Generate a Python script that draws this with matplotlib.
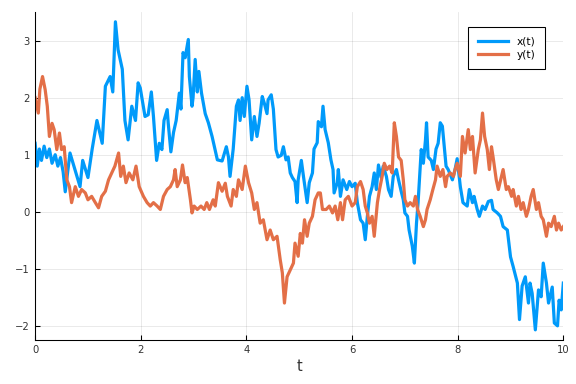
import numpy as np
import matplotlib
matplotlib.use("Agg")
import matplotlib.pyplot as plt

# x(t)
t_x = [0.00, 0.04, 0.08, 0.12, 0.17, 0.22, 0.27, 0.32, 0.38, 0.43, 0.48, 0.53, 0.57,
       0.66, 0.85, 0.90, 1.00, 1.08, 1.17, 1.27, 1.33, 1.42, 1.47, 1.52, 1.57, 1.65,
       1.70, 1.76, 1.83, 1.90, 1.95, 1.99, 2.08, 2.14, 2.20, 2.24, 2.30, 2.35, 2.40,
       2.44, 2.50, 2.52, 2.57, 2.62, 2.67, 2.73, 2.76, 2.80, 2.84, 2.90, 2.92, 2.97,
       2.99, 3.03, 3.07, 3.10, 3.15, 3.22, 3.28, 3.35, 3.45, 3.54, 3.62, 3.66, 3.69,
       3.75, 3.81, 3.85, 3.88, 3.92, 3.96, 4.01, 4.05, 4.10, 4.15, 4.20, 4.24, 4.30,
       4.34, 4.39, 4.41, 4.47, 4.51, 4.56, 4.60, 4.66, 4.70, 4.75, 4.79, 4.83, 4.87,
       4.92, 4.96, 4.98, 5.04, 5.08, 5.15, 5.19, 5.25, 5.28, 5.34, 5.36, 5.42, 5.45,
       5.49, 5.55, 5.60, 5.64, 5.66, 5.72, 5.74, 5.78, 5.83, 5.90, 5.95, 6.00, 6.06,
       6.10, 6.16, 6.21, 6.25, 6.29, 6.33, 6.38, 6.42, 6.46, 6.50, 6.55, 6.59, 6.65,
       6.69, 6.74, 6.78, 6.84, 6.88, 6.93, 6.97, 7.00, 7.05, 7.08, 7.14, 7.18, 7.22,
       7.25, 7.31, 7.35, 7.39, 7.41, 7.44, 7.50, 7.54, 7.59, 7.63, 7.67, 7.71, 7.75,
       7.78, 7.82, 7.90, 7.95, 7.99, 8.05, 8.10, 8.18, 8.22, 8.28, 8.31, 8.37, 8.41,
       8.47, 8.52, 8.58, 8.64, 8.67, 8.75, 8.81, 8.86, 8.94, 9.00, 9.05, 9.13, 9.17,
       9.22, 9.28, 9.34, 9.37, 9.41, 9.47, 9.53, 9.58, 9.62, 9.68, 9.72, 9.79, 9.83,
       9.89, 9.92, 9.96, 10.00]
x_vals = [1.20, 0.80, 1.10, 0.90, 1.15, 0.95, 1.10, 0.85, 1.00, 0.80, 0.95, 0.70, 0.35,
          1.03, 0.44, 0.90, 0.60, 1.10, 1.60, 1.20, 2.20, 2.37, 2.10, 3.33, 2.84, 2.50,
          1.60, 1.26, 1.85, 1.60, 2.26, 2.17, 1.67, 1.70, 2.10, 1.67, 0.90, 1.20, 1.09,
          1.60, 1.79, 1.55, 1.05, 1.39, 1.60, 2.08, 1.80, 2.79, 2.70, 3.02, 2.37, 1.85,
          2.00, 2.67, 2.10, 2.46, 2.08, 1.72, 1.56, 1.32, 0.91, 0.89, 1.14, 0.96, 0.62,
          1.10, 1.85, 1.96, 1.60, 2.00, 1.67, 2.20, 1.96, 1.26, 1.67, 1.32, 1.55, 2.02,
          1.90, 1.72, 1.96, 2.05, 1.80, 1.09, 0.96, 0.99, 1.14, 0.91, 0.96, 0.68, 0.60,
          0.53, 0.16, 0.56, 0.90, 0.62, 0.16, 0.51, 0.68, 1.10, 1.21, 1.58, 1.49, 1.85,
          1.44, 1.21, 0.91, 0.74, 0.33, 0.51, 0.74, 0.27, 0.56, 0.39, 0.53, 0.44, 0.50,
          0.16, -0.14, -0.20, -0.49, -0.08, 0.27, 0.44, 0.68, 0.39, 0.82, 0.60, 0.80, 0.62,
          0.39, 0.27, 0.62, 0.74, 0.56, 0.36, 0.21, -0.02, -0.08, -0.32, -0.60, -0.90, -0.20,
          0.16, 1.09, 0.85, 1.26, 1.56, 0.96, 0.90, 0.74, 1.10, 1.20, 1.56, 1.50, 1.09,
          0.80, 0.74, 0.56, 0.74, 0.93, 0.44, 0.16, 0.10, 0.39, 0.16, 0.27, 0.04, -0.08,
          0.10, 0.04, 0.18, 0.20, 0.04, -0.02, -0.08, -0.26, -0.32, -0.79, -0.96, -1.25, -1.89,
          -1.30, -1.14, -1.60, -1.25, -1.43, -2.07, -1.37, -1.49, -0.90, -1.25, -1.60, -1.32, -1.95,
          -2.00, -1.55, -1.72, -1.25]

# y(t)
t_y = [0.00, 0.06, 0.09, 0.14, 0.19, 0.23, 0.27, 0.32, 0.36, 0.41, 0.46, 0.50, 0.55,
       0.60, 0.65, 0.69, 0.76, 0.82, 0.88, 0.95, 1.00, 1.07, 1.14, 1.20, 1.26, 1.33,
       1.39, 1.45, 1.51, 1.58, 1.62, 1.67, 1.72, 1.78, 1.85, 1.91, 1.97, 2.05, 2.12,
       2.18, 2.24, 2.31, 2.37, 2.43, 2.50, 2.56, 2.62, 2.65, 2.69, 2.75, 2.79, 2.84,
       2.88, 2.94, 2.97, 3.01, 3.07, 3.14, 3.20, 3.25, 3.30, 3.37, 3.41, 3.47, 3.54,
       3.60, 3.64, 3.71, 3.75, 3.81, 3.85, 3.92, 3.98, 4.04, 4.10, 4.15, 4.20, 4.26,
       4.32, 4.39, 4.45, 4.51, 4.58, 4.64, 4.68, 4.72, 4.77, 4.83, 4.89, 4.92, 4.98,
       5.02, 5.06, 5.10, 5.15, 5.19, 5.25, 5.30, 5.36, 5.40, 5.44, 5.51, 5.57, 5.63,
       5.68, 5.73, 5.78, 5.82, 5.87, 5.93, 6.00, 6.06, 6.10, 6.16, 6.21, 6.25, 6.29,
       6.33, 6.38, 6.42, 6.48, 6.52, 6.57, 6.61, 6.66, 6.71, 6.76, 6.80, 6.84, 6.88,
       6.93, 6.97, 7.00, 7.05, 7.10, 7.16, 7.20, 7.24, 7.29, 7.35, 7.39, 7.42, 7.48,
       7.53, 7.58, 7.61, 7.67, 7.72, 7.77, 7.80, 7.86, 7.92, 7.95, 7.99, 8.05, 8.09,
       8.14, 8.20, 8.24, 8.28, 8.33, 8.39, 8.43, 8.47, 8.51, 8.56, 8.60, 8.64, 8.67,
       8.73, 8.77, 8.83, 8.86, 8.92, 8.96, 9.02, 9.05, 9.11, 9.15, 9.20, 9.24, 9.30,
       9.34, 9.39, 9.43, 9.49, 9.53, 9.58, 9.62, 9.68, 9.72, 9.77, 9.83, 9.87, 9.91,
       9.96, 10.00]
y_vals = [2.00, 1.73, 2.15, 2.37, 2.14, 1.85, 1.32, 1.55, 1.44, 1.09, 1.38, 1.09, 1.14,
          0.56, 0.44, 0.16, 0.44, 0.27, 0.39, 0.33, 0.21, 0.27, 0.16, 0.07, 0.27, 0.36,
          0.56, 0.68, 0.80, 1.03, 0.62, 0.80, 0.51, 0.68, 0.56, 0.80, 0.44, 0.27, 0.16,
          0.10, 0.16, 0.10, 0.04, 0.27, 0.39, 0.44, 0.56, 0.74, 0.44, 0.56, 0.82, 0.51,
          0.60, 0.21, -0.02, 0.10, 0.04, 0.10, 0.04, 0.16, 0.04, 0.21, 0.10, 0.51, 0.36,
          0.50, 0.27, 0.10, 0.39, 0.27, 0.56, 0.39, 0.80, 0.51, 0.33, 0.04, 0.16, -0.20,
          -0.14, -0.49, -0.32, -0.49, -0.43, -0.84, -1.07, -1.60, -1.14, -1.02, -0.90, -0.55, -0.78,
          -0.38, -0.55, -0.14, -0.43, -0.20, -0.08, 0.21, 0.33, 0.33, 0.04, 0.04, 0.10, -0.02,
          0.10, -0.14, 0.16, -0.14, 0.21, 0.27, 0.10, 0.16, 0.44, 0.53, 0.39, 0.10, -0.02,
          -0.20, -0.08, -0.43, 0.16, 0.39, 0.62, 0.85, 0.74, 0.80, 0.68, 1.56, 1.32, 0.96,
          0.90, 0.56, 0.21, 0.10, 0.16, 0.10, 0.27, 0.04, -0.08, -0.26, -0.14, 0.04, 0.21,
          0.39, 0.56, 0.80, 0.62, 0.74, 0.44, 0.62, 0.68, 0.62, 0.74, 0.85, 0.62, 1.32,
          1.03, 1.44, 1.09, 1.32, 0.68, 1.09, 1.26, 1.73, 1.32, 1.09, 0.74, 1.14, 0.96,
          0.56, 0.39, 0.62, 0.74, 0.39, 0.44, 0.27, 0.39, 0.10, 0.27, 0.04, 0.16, -0.08,
          0.04, 0.27, 0.39, 0.04, 0.16, -0.08, -0.14, -0.43, -0.20, -0.26, -0.08, -0.32, -0.20,
          -0.32, -0.26]

blue = '#009AFA'
orange = '#E36F47'

fig = plt.figure(figsize=(6, 4), dpi=96)
ax = fig.add_axes([0.061, 0.115, 0.917, 0.855])

ax.plot(t_x, x_vals, color=blue, lw=2.4, label='x(t)', solid_joinstyle='round')
ax.plot(t_y, y_vals, color=orange, lw=2.4, label='y(t)', solid_joinstyle='round')

ax.set_xlim(0, 10)
ax.set_ylim(-2.245, 3.51)
ax.set_xticks([0, 2, 4, 6, 8, 10])
ax.set_yticks([-2, -1, 0, 1, 2, 3])

ax.grid(True, color='black', alpha=0.1, lw=0.6)
ax.set_axisbelow(True)
for s in ['top', 'right']:
    ax.spines[s].set_visible(False)
for s in ['left', 'bottom']:
    ax.spines[s].set_linewidth(0.8)
ax.tick_params(direction='in', length=4, width=0.8, labelsize=7.5,
               labelcolor='#333333', pad=4)

ax.set_xlabel('t', fontsize=11, color='#333333', labelpad=3)

leg = ax.legend(loc='upper right', bbox_to_anchor=(0.975, 0.97), fontsize=8,
                fancybox=False, framealpha=1, edgecolor='black',
                handlelength=2.8, borderpad=0.9, labelspacing=0.3)
leg.get_frame().set_linewidth(0.8)

plt.savefig('out.png', dpi=96)
